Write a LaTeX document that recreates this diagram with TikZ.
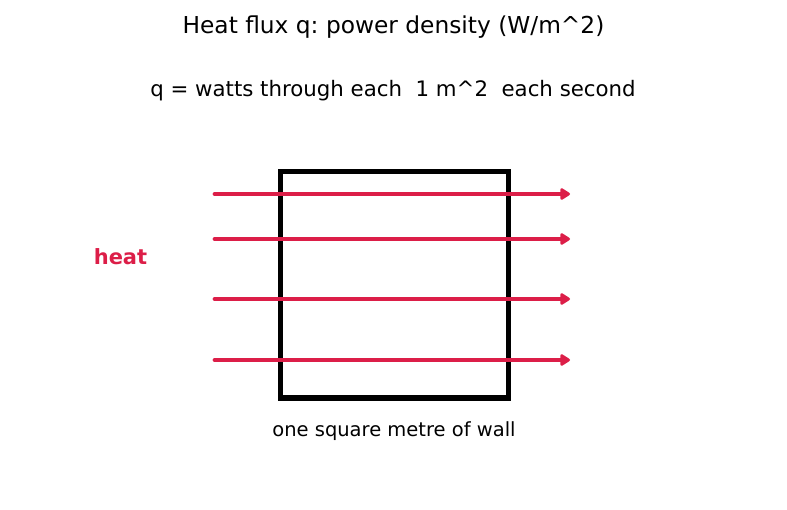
\documentclass[tikz,border=0pt]{standalone}
\usepackage{fontspec}
\setmainfont{DejaVu Sans}
\usetikzlibrary{arrows.meta}
\definecolor{heatred}{RGB}{220,30,72}
\frenchspacing
\begin{document}
\begin{tikzpicture}[x=1pt,y=-1pt,
  flux/.style={draw=heatred,line width=4.8pt,line cap=round,-{Triangle[length=11pt,width=13pt,round]}},
  wall/.style={draw=black,line width=5pt},
  txt/.style={inner sep=0pt,anchor=center}]
\useasboundingbox (0,0) rectangle (787,510);
\node[txt,font=\fontsize{23.3}{28}\selectfont] (title) at (393.5,27) {Heat flux q: power density (W/m\^{}2)};
\node[txt,font=\fontsize{21.3}{25}\selectfont] (sub) at (393,90.5) {q = watts through each\ \ 1 m\^{}2\ \ each second};
\node[wall,minimum width=228pt,minimum height=226pt,inner sep=0pt] (box) at (394,285) {};
\node[txt,font=\fontsize{19.5}{23}\selectfont] (cap) at (394,431.5) {one square metre of wall};
\node[txt,font=\bfseries\fontsize{21}{25}\selectfont,text=heatred] (heat) at (120.5,257) {heat};
\foreach \y/\n in {194/a,239/b,299/c,360/d}{
  \coordinate (s\n) at (215,\y);
  \coordinate (e\n) at (570,\y);
  \draw[flux] (s\n) -- (e\n);
}
\end{tikzpicture}
\end{document}
